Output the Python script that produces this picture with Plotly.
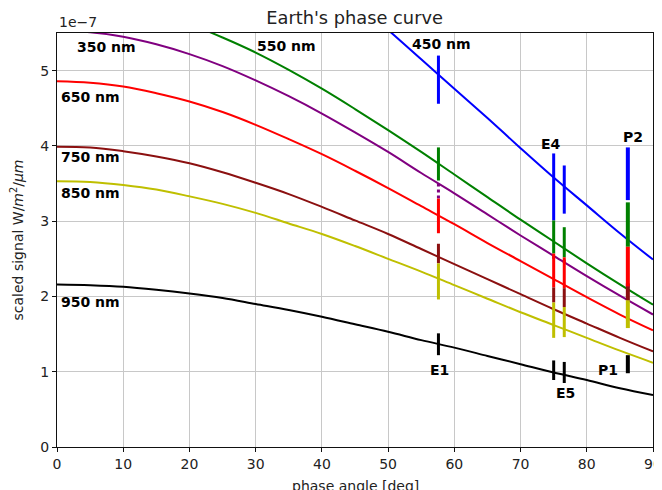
import plotly.graph_objects as go

# ---------------- data (signal in units of 1e-7 W/m^2/um) ----------------
phase_deg = [0, 5, 10, 15, 20, 25, 30, 35, 40, 45, 50, 55, 60, 65, 70, 75, 80, 85, 90]

curve_350 = [5.53, 5.51, 5.45, 5.35, 5.22, 5.06, 4.87, 4.66, 4.43, 4.18, 3.92, 3.64, 3.37, 3.09, 2.81, 2.54, 2.27, 2.01, 1.76]
curve_450 = [7.82, 7.79, 7.71, 7.57, 7.38, 7.15, 6.89, 6.59, 6.26, 5.91, 5.54, 5.15, 4.76, 4.37, 3.97, 3.58, 3.21, 2.84, 2.49]
curve_550 = [5.95, 5.93, 5.86, 5.76, 5.62, 5.44, 5.24, 5.01, 4.76, 4.49, 4.21, 3.92, 3.62, 3.32, 3.02, 2.73, 2.44, 2.16, 1.89]
curve_650 = [4.86, 4.84, 4.79, 4.70, 4.59, 4.45, 4.28, 4.09, 3.89, 3.67, 3.44, 3.20, 2.96, 2.71, 2.47, 2.23, 1.99, 1.76, 1.55]
curve_750 = [3.99, 3.98, 3.93, 3.86, 3.77, 3.65, 3.51, 3.36, 3.19, 3.01, 2.83, 2.63, 2.43, 2.23, 2.03, 1.83, 1.64, 1.45, 1.27]
curve_850 = [3.53, 3.52, 3.48, 3.42, 3.33, 3.23, 3.11, 2.97, 2.83, 2.67, 2.50, 2.33, 2.15, 1.97, 1.79, 1.62, 1.45, 1.28, 1.12]
curve_950 = [2.16, 2.15, 2.13, 2.09, 2.04, 1.98, 1.90, 1.82, 1.73, 1.63, 1.53, 1.42, 1.32, 1.21, 1.10, 0.99, 0.89, 0.78, 0.69]

# observation epochs (phase angle) and measured ranges per wavelength
obs_phase = [57.6, 75.0, 76.6, 86.2]
obs_450_lo = [4.56, 3.01, 3.10, 3.28]
obs_450_hi = [5.20, 3.90, 3.74, 3.98]
obs_550_lo = [3.54, 2.57, 2.52, 2.66]
obs_550_hi = [3.98, 3.01, 2.92, 3.25]
obs_350_lo = [3.30, 2.50, 2.45, 2.12]
obs_350_hi = [3.54, 2.57, 2.52, 2.22]
obs_650_lo = [2.84, 2.12, 2.11, 2.13]
obs_650_hi = [3.30, 2.57, 2.52, 2.66]
obs_750_lo = [2.44, 1.92, 1.86, 1.95]
obs_750_hi = [2.70, 2.12, 2.11, 2.13]
obs_850_lo = [1.96, 1.45, 1.46, 1.58]
obs_850_hi = [2.44, 1.92, 1.86, 1.95]
obs_950_lo = [1.22, 0.89, 0.85, 0.98]
obs_950_hi = [1.51, 1.15, 1.13, 1.22]

curve_labels = ["350 nm", "550 nm", "450 nm", "650 nm", "750 nm", "850 nm", "950 nm"]
curve_label_x = [7.5, 34.6, 58.0, 5.06, 5.06, 5.06, 5.06]
curve_label_y = [5.31, 5.33, 5.35, 4.65, 3.85, 3.37, 1.92]

epoch_labels = ["E1", "E4", "E5", "P1", "P2"]
epoch_label_x = [57.8, 74.6, 76.8, 83.2, 87.0]
epoch_label_y = [1.02, 4.02, 0.72, 1.02, 4.12]

FONT = "DejaVu Sans"

series = [
    ("350", curve_350, "#800080", obs_350_lo, obs_350_hi),
    ("450", curve_450, "#0000ff", obs_450_lo, obs_450_hi),
    ("550", curve_550, "#008000", obs_550_lo, obs_550_hi),
    ("650", curve_650, "#ff0000", obs_650_lo, obs_650_hi),
    ("750", curve_750, "#8b1010", obs_750_lo, obs_750_hi),
    ("850", curve_850, "#bfbf00", obs_850_lo, obs_850_hi),
    ("950", curve_950, "#000000", obs_950_lo, obs_950_hi),
]

fig = go.Figure()

for name, vals, col, lo, hi in series:
    fig.add_trace(go.Scatter(x=phase_deg, y=vals, mode="lines",
                             line=dict(color=col, width=2, shape="spline"),
                             showlegend=False, hoverinfo="skip"))

for name, vals, col, lo, hi in series:
    for i, xp in enumerate(obs_phase):
        fig.add_trace(go.Scatter(x=[xp, xp], y=[lo[i], hi[i]], mode="lines",
                                 line=dict(color=col, width=4 if i == 3 else 3,
                                           dash="dot" if name == "350" else "solid"),
                                 showlegend=False, hoverinfo="skip"))

for t, xx, yy in zip(curve_labels, curve_label_x, curve_label_y):
    fig.add_annotation(x=xx, y=yy, xref="x", yref="y", text="<b>" + t + "</b>",
                       showarrow=False, font=dict(family=FONT, size=14, color="black"))
for t, xx, yy in zip(epoch_labels, epoch_label_x, epoch_label_y):
    fig.add_annotation(x=xx, y=yy, xref="x", yref="y", text="<b>" + t + "</b>",
                       showarrow=False, font=dict(family=FONT, size=14, color="black"))

fig.add_annotation(x=0, y=1, xref="paper", yref="paper", xanchor="left", yanchor="bottom",
                   yshift=1, text="1e\u22127", showarrow=False,
                   font=dict(family=FONT, size=14, color="#222"))

# x-axis title (sits partly below the visible window, as in the reference)
fig.add_annotation(x=0.5, y=0, xref="paper", yref="paper", xanchor="center", yanchor="top",
                   yshift=-29, text="phase angle [deg]", showarrow=False,
                   font=dict(family=FONT, size=14, color="#222"))

# page body has an 8px default margin, so the figure is sized/offset to compensate
fig.update_layout(
    width=654, height=482,
    margin=dict(l=49, r=9, t=25, b=43),
    plot_bgcolor="white", paper_bgcolor="white",
    font=dict(family=FONT, size=14, color="#222"),
    title=dict(text="Earth's phase curve", x=0.530, xanchor="center",
               y=0.98, yanchor="middle", font=dict(family=FONT, size=17.8, color="#222")),
    xaxis=dict(range=[0, 90], dtick=10, tick0=0, showgrid=True, gridcolor="#c8c8c8", gridwidth=1,
               showline=True, linecolor="#111", linewidth=1.3, mirror=True, automargin=False,
               ticks="outside", ticklen=4, tickcolor="#111", zeroline=False),
    yaxis=dict(range=[0, 5.5], dtick=1, tick0=0, showgrid=True, gridcolor="#c8c8c8", gridwidth=1,
               showline=True, linecolor="#111", linewidth=1.3, mirror=True, automargin=False,
               ticks="outside", ticklen=4, tickcolor="#111", zeroline=False,
               title=dict(text="scaled signal W/<i>m</i><sup>2</sup>/<i>\u03bcm</i>", font=dict(size=14), standoff=16)),
)

fig.write_html("out.html")
